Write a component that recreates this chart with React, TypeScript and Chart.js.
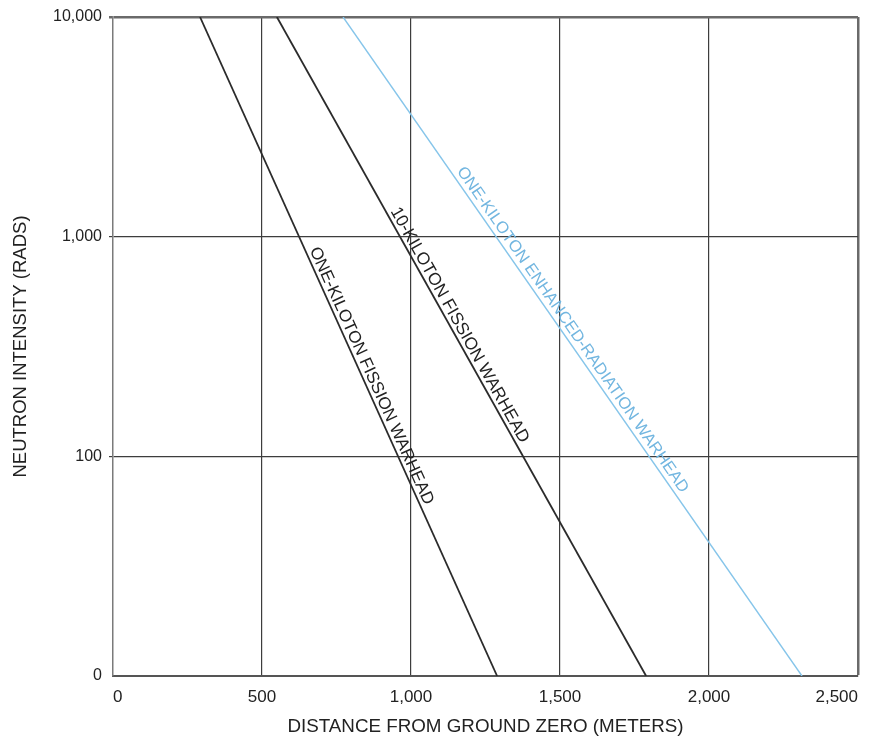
import React, { useEffect, useRef } from 'react';
import { Chart, registerables } from 'chart.js';

Chart.register(...registerables);

// ---- Data ----
const xTickValues = [0, 500, 1000, 1500, 2000, 2500];
const xTickLabels = ['0', '500', '1,000', '1,500', '2,000', '2,500'];
const yTickValues = [10, 100, 1000, 10000];
const yTickLabels = ['0', '100', '1,000', '10,000'];

const seriesNames = [
  'ONE-KILOTON FISSION WARHEAD',
  '10-KILOTON FISSION WARHEAD',
  'ONE-KILOTON ENHANCED-RADIATION WARHEAD',
];
const oneKtDistance = [292, 1289];
const oneKtRads = [10000, 10];
const tenKtDistance = [550, 1789];
const tenKtRads = [10000, 10];
const erDistance = [772, 2312];
const erRads = [10000, 10];

const xTitle = 'DISTANCE FROM GROUND ZERO (METERS)';
const yTitle = 'NEUTRON INTENSITY (RADS)';

// ---- Styles ----
const FONT = '"Liberation Sans", Arial, Helvetica, sans-serif';
const lineColors = ['#2b2b2b', '#2b2b2b', '#86c5ea'];
const lineWidths = [1.8, 1.8, 1.4];
const labelColors = ['#222222', '#222222', '#72b6e0'];
const labelFontSizes = [17, 17.3, 16.5];
const labelAlong = [0.55, 0.474, 0.483];
const labelGap = [4, 4, 5];

const toPoints = (xs: number[], ys: number[]) => xs.map((x, i) => ({ x, y: ys[i] }));

const lineLabelPlugin = {
  id: 'lineLabels',
  afterDatasetsDraw(chart: any) {
    const { ctx, scales } = chart;
    const xs = scales.x;
    const ys = scales.y;
    chart.data.datasets.forEach((ds: any, i: number) => {
      const pts = ds.data;
      const a = pts[0];
      const b = pts[pts.length - 1];
      const x0 = xs.getPixelForValue(a.x);
      const y0 = ys.getPixelForValue(a.y);
      const x1 = xs.getPixelForValue(b.x);
      const y1 = ys.getPixelForValue(b.y);
      const ang = Math.atan2(y1 - y0, x1 - x0);
      const t = labelAlong[i];
      ctx.save();
      ctx.translate(x0 + (x1 - x0) * t, y0 + (y1 - y0) * t);
      ctx.rotate(ang);
      ctx.font = `${labelFontSizes[i]}px ${FONT}`;
      ctx.fillStyle = labelColors[i];
      ctx.textAlign = 'center';
      ctx.textBaseline = 'alphabetic';
      ctx.fillText(ds.label, 0, -labelGap[i]);
      ctx.restore();
    });
  },
};

export default function App() {
  const canvasRef = useRef<HTMLCanvasElement | null>(null);

  useEffect(() => {
    if (!canvasRef.current) return;
    Chart.defaults.font.family = FONT;
    const lastX = xTickValues.length - 1;
    const lastY = yTickValues.length - 1;
    const mkDataset = (i: number, xs: number[], ys: number[]) => ({
      label: seriesNames[i],
      data: toPoints(xs, ys),
      borderColor: lineColors[i],
      borderWidth: lineWidths[i],
      pointRadius: 0,
      fill: false,
      tension: 0,
    });
    const chart = new Chart(canvasRef.current, {
      type: 'line',
      data: {
        datasets: [
          mkDataset(0, oneKtDistance, oneKtRads),
          mkDataset(1, tenKtDistance, tenKtRads),
          mkDataset(2, erDistance, erRads),
        ],
      },
      options: {
        animation: false,
        responsive: true,
        maintainAspectRatio: false,
        layout: { padding: { left: 0, top: 17, right: 15, bottom: 0 } },
        plugins: {
          legend: { display: false },
          tooltip: { enabled: false },
        },
        scales: {
          x: {
            type: 'linear',
            min: 0,
            max: 2500,
            afterBuildTicks: (s: any) => {
              s.ticks = xTickValues.map((v) => ({ value: v }));
            },
            afterFit: (s: any) => {
              s.height = 64;
            },
            ticks: {
              align: 'inner',
              padding: 11,
              maxRotation: 0,
              autoSkip: false,
              color: '#222',
              font: { size: 17 },
              callback: (v: any) => xTickLabels[xTickValues.indexOf(Number(v))],
            },
            grid: {
              drawTicks: false,
              color: (c: any) => (c.index === lastX ? '#6a6a6a' : c.index === 0 ? 'rgba(0,0,0,0)' : '#3d3d3d'),
              lineWidth: (c: any) => (c.index === lastX ? 2.5 : 1.2),
            },
            border: { display: true, color: '#555', width: 2 },
            title: {
              display: true,
              text: xTitle,
              color: '#222',
              font: { size: 18.8 },
              padding: { top: 0, bottom: 2 },
            },
          },
          y: {
            type: 'logarithmic',
            min: 10,
            max: 10000,
            afterBuildTicks: (s: any) => {
              s.ticks = yTickValues.map((v) => ({ value: v }));
            },
            afterFit: (s: any) => {
              s.width = 113;
            },
            ticks: {
              padding: 7,
              autoSkip: false,
              color: '#222',
              font: { size: 16 },
              callback: (v: any) => yTickLabels[yTickValues.indexOf(Number(v))],
            },
            grid: {
              drawTicks: true,
              tickLength: 4,
              color: (c: any) => (c.index === lastY ? '#6a6a6a' : c.index === 0 ? 'rgba(0,0,0,0)' : '#3d3d3d'),
              lineWidth: (c: any) => (c.index === lastY ? 2.5 : 1.2),
            },
            border: { display: true, color: '#7a7a7a', width: 1.5 },
            title: {
              display: true,
              text: yTitle,
              color: '#222',
              font: { size: 18.5 },
              padding: { top: 10, bottom: 0 },
            },
          },
        },
      } as any,
      plugins: [lineLabelPlugin],
    });
    return () => chart.destroy();
  }, []);

  return (
    <div style={{ position: 'absolute', left: 0, top: 0, width: 873, height: 740, background: '#fff' }}>
      <canvas ref={canvasRef} />
    </div>
  );
}
